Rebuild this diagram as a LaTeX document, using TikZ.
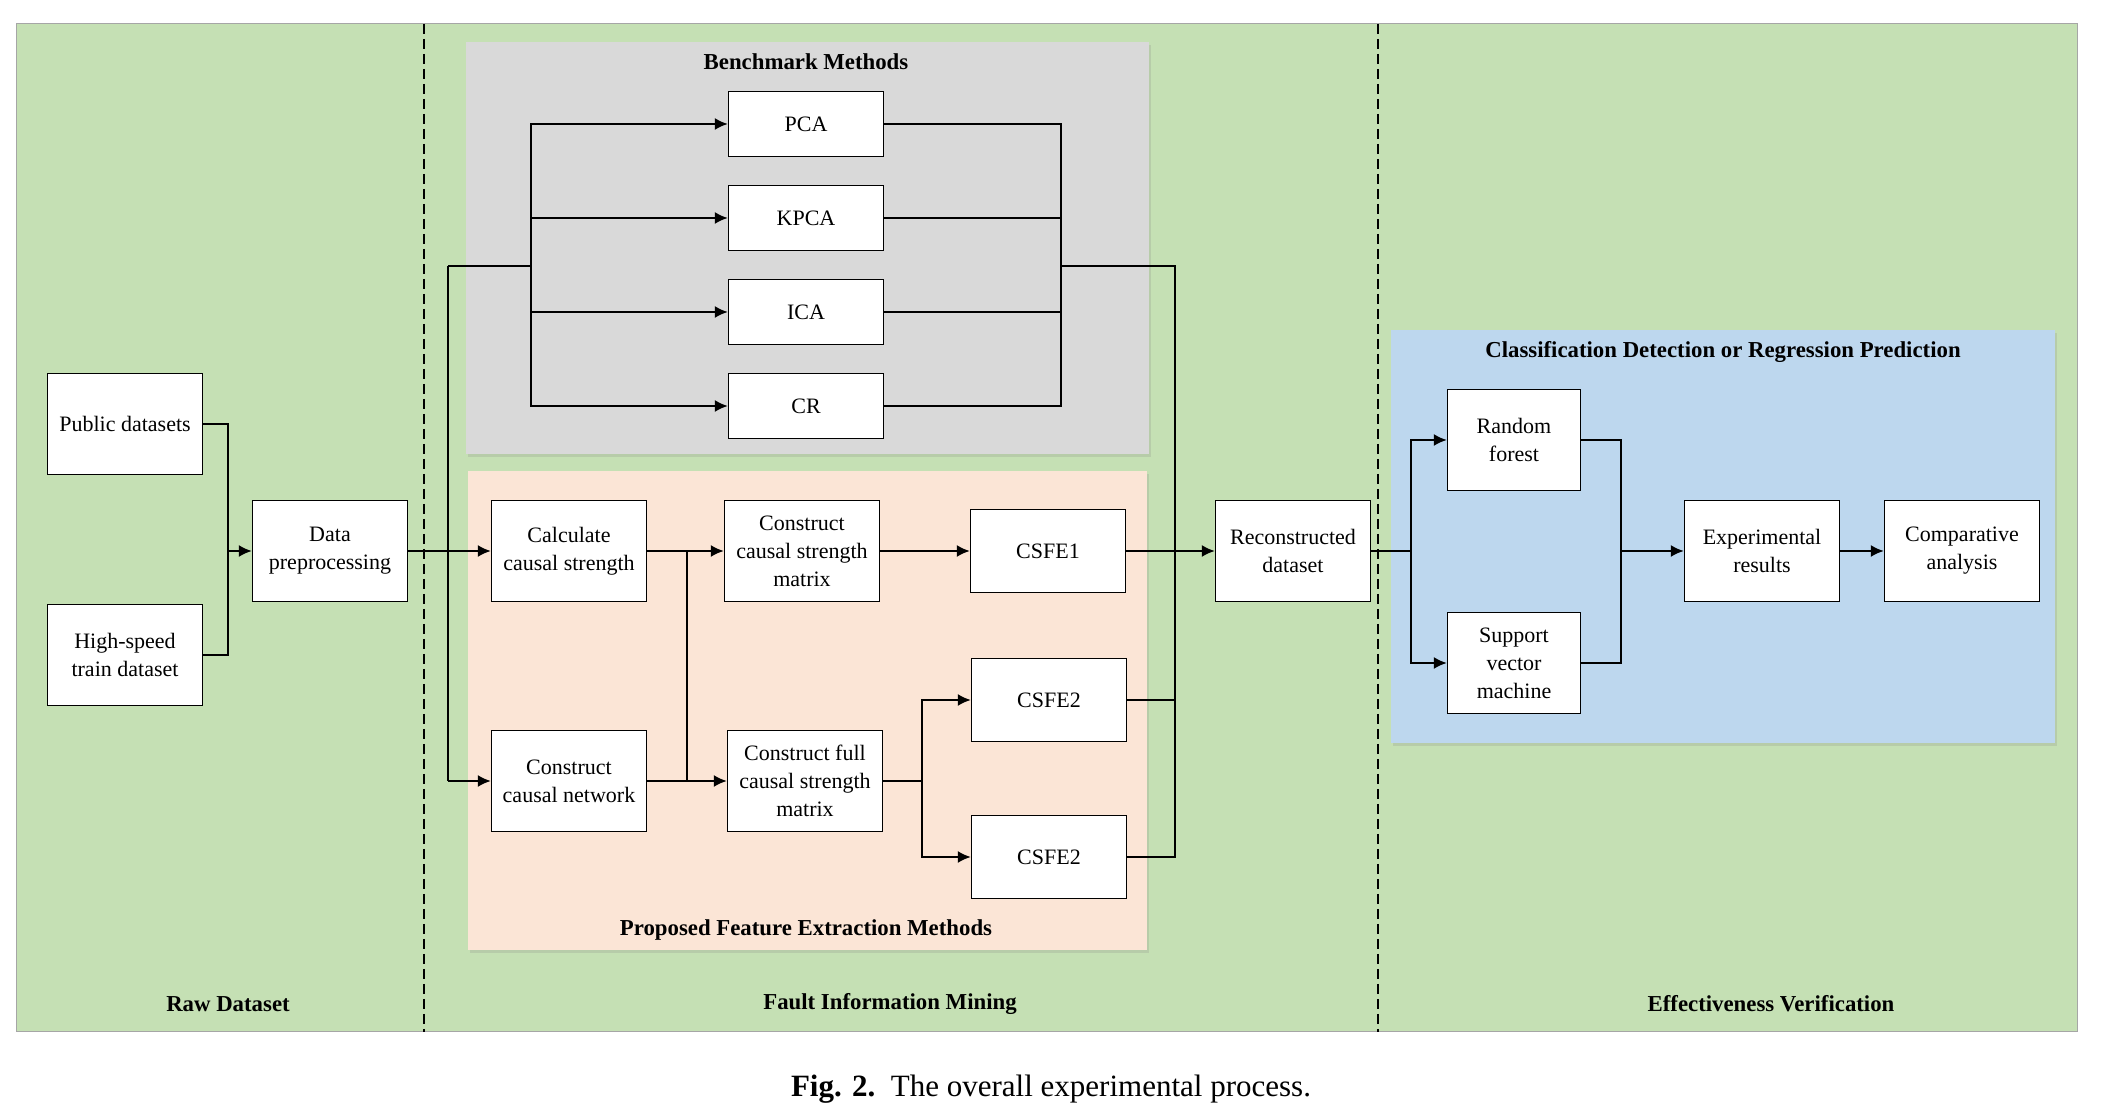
\documentclass[tikz,border=0pt]{standalone}
\usepackage{fontspec}
\setmainfont{Liberation Serif}
\usetikzlibrary{arrows.meta,shadows}

\definecolor{bggreen}{RGB}{197,224,180}
\definecolor{bggray}{RGB}{217,217,217}
\definecolor{bgpeach}{RGB}{251,229,214}
\definecolor{bgblue}{RGB}{189,215,238}

\begin{document}
\begin{tikzpicture}[x=0.5pt,y=-0.5pt]

\tikzstyle{box}=[draw,fill=white,line width=0.7pt,align=center,inner sep=0pt,
  minimum width=77.5pt,minimum height=50.5pt,font=\fontsize{11}{14}\selectfont]
\tikzstyle{ttl}=[font=\fontsize{11.4}{14}\selectfont\bfseries]
\tikzstyle{ln}=[line width=0.9pt]
\tikzstyle{arr}=[line width=0.9pt,-{Latex[length=6.5pt,width=6pt]}]
\tikzstyle{panel}=[draw=none,drop shadow={shadow xshift=1pt,shadow yshift=-1.5pt,opacity=0.2}]

\useasboundingbox (0,0) rectangle (2101,1111);

% background and panels
\filldraw[fill=bggreen,draw=black!35,line width=0.5pt] (16,24) rectangle (2077,1032);
\fill[bggray,panel] (466,42) rectangle (1149,454);
\fill[bgpeach,panel] (468,471) rectangle (1147,950);
\fill[bgblue,panel] (1391,330) rectangle (2055,743);
\draw[dash pattern=on 5pt off 2.5pt,line width=0.6pt] (424,24)--(424,1032);
\draw[dash pattern=on 5pt off 2.5pt,line width=0.6pt] (1378,24)--(1378,1032);

% titles
\node[ttl] (tbench) at (806,62) {Benchmark Methods};
\node[ttl] (tprop) at (806,930) {Proposed Feature Extraction Methods};
\node[ttl] (tclass) at (1723,352) {Classification Detection or Regression Prediction};
\node[ttl] (traw) at (228,1004) {Raw Dataset};
\node[ttl] (tfault) at (890,1004) {Fault Information Mining};
\node[ttl] (teff) at (1771,1004) {Effectiveness Verification};

% raw dataset
\node[box] (pub) at (125,424) {Public datasets};
\node[box] (hst) at (125,655) {High-speed\\train dataset};
\node[box] (prep) at (330,551) {Data\\preprocessing};

% benchmark methods
\node[box,minimum height=32.5pt] (pca) at (806,124) {PCA};
\node[box,minimum height=32.5pt] (kpca) at (806,218) {KPCA};
\node[box,minimum height=32.5pt] (ica) at (806,312) {ICA};
\node[box,minimum height=32.5pt] (cr) at (806,406) {CR};

% proposed methods
\node[box] (calc) at (569,551) {Calculate\\causal strength};
\node[box] (net) at (569,781) {Construct\\causal network};
\node[box] (csm) at (802,551) {Construct\\causal strength\\matrix};
\node[box] (fcsm) at (805,781) {Construct full\\causal strength\\matrix};
\node[box,minimum height=41.5pt] (csfea) at (1048,551) {CSFE1};
\node[box,minimum height=41.5pt] (csfeb) at (1049,700) {CSFE2};
\node[box,minimum height=41.5pt] (csfec) at (1049,857) {CSFE2};

% verification
\node[box] (rec) at (1293,551) {Reconstructed\\dataset};
\node[box,minimum width=66.5pt] (rf) at (1514,440) {Random\\forest};
\node[box,minimum width=66.5pt] (svm) at (1514,663) {Support\\vector\\machine};
\node[box] (res) at (1762,551) {Experimental\\results};
\node[box] (comp) at (1962,551) {Comparative\\analysis};

% junctions
\node[shape=coordinate] (jraw) at (228,551){};
\node[shape=coordinate] (jsplit) at (448,551){};
\node[shape=coordinate] (jtop) at (448,266){};
\node[shape=coordinate] (jbot) at (448,781){};
\node[shape=coordinate] (jbl) at (531,266){};
\node[shape=coordinate] (jbr) at (1061,266){};
\node[shape=coordinate] (jmat) at (687,551){};
\node[shape=coordinate] (jfull) at (922,781){};
\node[shape=coordinate] (jout) at (1175,551){};
\node[shape=coordinate] (jcls) at (1411,551){};
\node[shape=coordinate] (jres) at (1621,551){};

% connectors
\draw[ln] (pub.east) -| (jraw);
\draw[ln] (hst.east) -| (jraw);
\draw[arr] (jraw) -- (prep.west);
\draw[ln] (prep.east) -- (jsplit);
\draw[ln] (jtop) -- (jbot);
\draw[arr] (jsplit) -- (calc.west);
\draw[arr] (jbot) -- (net.west);
\draw[ln] (jtop) -- (jbl);
\draw[arr] (jbl) |- (pca.west);
\draw[arr] (jbl) |- (kpca.west);
\draw[arr] (jbl) |- (ica.west);
\draw[arr] (jbl) |- (cr.west);
\draw[ln] (pca.east) -| (jbr);
\draw[ln] (kpca.east) -| (jbr);
\draw[ln] (ica.east) -| (jbr);
\draw[ln] (cr.east) -| (jbr);
\draw[ln] (jbr) -| (jout);
\draw[arr] (calc.east) -- (csm.west);
\draw[arr] (net.east) -- (fcsm.west);
\draw[ln] (jmat) -- (jmat |- net.east);
\draw[arr] (csm.east) -- (csfea.west);
\draw[ln] (fcsm.east) -- (jfull);
\draw[arr] (jfull) |- (csfeb.west);
\draw[arr] (jfull) |- (csfec.west);
\draw[ln] (csfeb.east) -| (jout);
\draw[ln] (csfec.east) -| (jout);
\draw[arr] (csfea.east) -- (rec.west);
\draw[ln] (rec.east) -- (jcls);
\draw[arr] (jcls) |- (rf.west);
\draw[arr] (jcls) |- (svm.west);
\draw[ln] (rf.east) -| (jres);
\draw[ln] (svm.east) -| (jres);
\draw[arr] (jres) -- (res.west);
\draw[arr] (res.east) -- (comp.west);

% caption
\node[font=\fontsize{15.5}{18}\selectfont] (cap) at (1051,1089) {\textbf{Fig. 2.}\ \ The overall experimental process.};

\end{tikzpicture}
\end{document}
